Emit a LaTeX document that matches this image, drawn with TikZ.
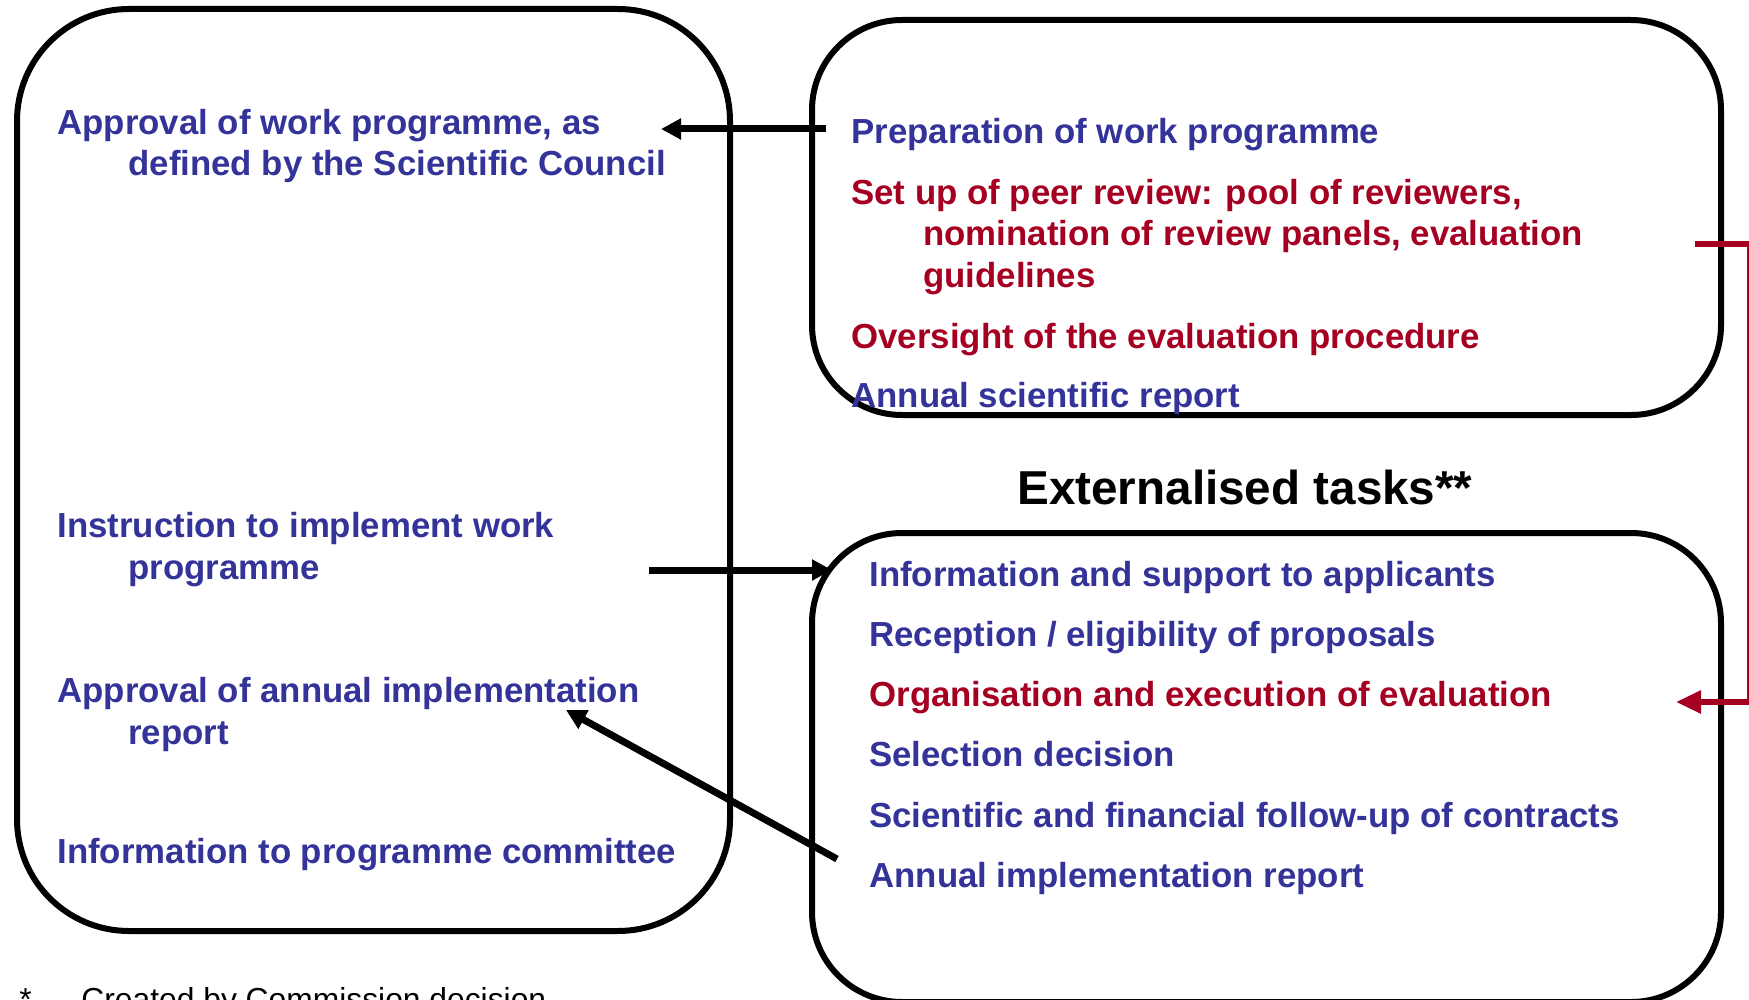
\documentclass[tikz,border=0pt]{standalone}
\usepackage{fontspec}
\setmainfont{Liberation Sans}
\usepackage{xcolor}
\usetikzlibrary{arrows.meta}
\definecolor{ecblue}{RGB}{51,51,153}
\definecolor{ecred}{RGB}{165,0,33}
\tikzset{>=latex}

\begin{document}
\begin{tikzpicture}[x=0.5pt,y=-0.5pt,
    task/.style={anchor=base west,inner sep=0pt,align=left,text=ecblue,
        font=\bfseries\fontsize{17.4}{20.6}\selectfont},
    redtask/.style={task,text=ecred},
    box/.style={line width=3pt,rounded corners=#1},
    link/.style={line width=3.5pt,-{Triangle[length=10pt,width=10pt]}}]
    \useasboundingbox (0,0) rectangle (1749,1000);
    % the three boxes
    \draw[box=56pt] (17,9) rectangle (730,931);
    \draw[box=45pt] (812,20) rectangle (1721,415);
    \draw[box=45pt] (812,533) rectangle (1721,1002);
    % left box (base = last line)
    \node[task] (approvewp) at (57,176) {Approval of work programme, as\\\hspace*{35.5pt}defined by the Scientific Council};
    \node[task] (instruct) at (57,579) {Instruction to implement work\\\hspace*{35.5pt}programme};
    \node[task] (approverep) at (57,744) {Approval of annual implementation\\\hspace*{35.5pt}report};
    \node[task] (infocom) at (57,863) {Information to programme committee};
    % upper right box
    \node[task] (prep) at (851,144) {Preparation of work programme};
    \node[redtask] (peer) at (851,287) {Set up of peer review: pool of reviewers,\\\hspace*{36pt}nomination of review panels, evaluation\\\hspace*{36pt}guidelines};
    \node[redtask] (oversight) at (851,348) {Oversight of the evaluation procedure};
    \node[task] (annsci) at (851,407) {Annual scientific report};
    \node[anchor=base,inner sep=0pt,font=\bfseries\fontsize{23.8}{28}\selectfont] (ext) at (1245,504) {Externalised tasks**};
    % lower right box
    \node[task] (infosup) at (869,586) {Information and support to applicants};
    \node[task] (reception) at (869,646) {Reception / eligibility of proposals};
    \node[redtask] (organise) at (869,706) {Organisation and execution of evaluation};
    \node[task] (selection) at (869,766) {Selection decision};
    \node[task] (followup) at (869,827) {Scientific and financial follow-up of contracts};
    \node[task] (annimpl) at (869,887) {Annual implementation report};
    % footnote
    \node[anchor=base west,inner sep=0pt,font=\fontsize{15.9}{18}\selectfont] (star) at (19,1010) {*};
    \node[anchor=base west,inner sep=0pt,font=\fontsize{15.9}{18}\selectfont] (created) at (81,1010) {Created by Commission decision};
    % arrows
    \coordinate (prepout) at (826,129);
    \coordinate (approvein) at (661,129);
    \coordinate (instructout) at (649,570);
    \coordinate (infosupin) at (832,570);
    \coordinate (annimplout) at (837,859);
    \coordinate (approverepin) at (566,710);
    \draw[link] (prepout) -- (approvein);
    \draw[link] (instructout) -- (infosupin);
    \draw[link] (annimplout) -- (approverepin);
    \coordinate (peerout) at (1695,244);
    \coordinate (organisein) at (1676,702);
    \draw[ecred,line width=2.8pt,-{Triangle[length=12.5pt,width=11pt]}] (peerout) -- (1750,244) -- (1750,702) -- (organisein);
\end{tikzpicture}
\end{document}
